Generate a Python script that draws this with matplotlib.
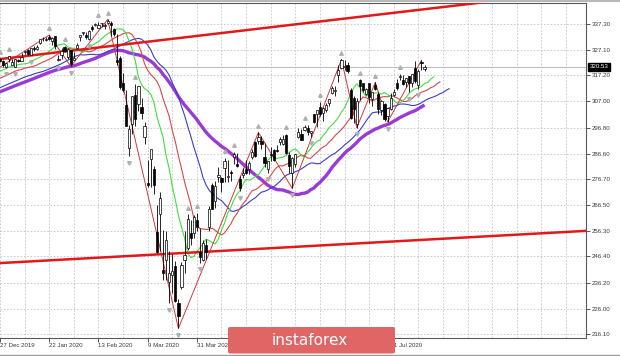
import numpy as np
import pandas as pd
import matplotlib
matplotlib.use("Agg")
import matplotlib.pyplot as plt
import matplotlib.transforms as mtransforms
from matplotlib.patches import FancyBboxPatch
from matplotlib.lines import Line2D

# closes before the first bar (14 Oct - 29 Nov 2019), only used to warm up the averages
hist_close = [295.95, 298.88, 298.40, 299.28, 297.97, 299.99, 298.58, 299.37, 299.94, 301.60,
              303.30, 303.21, 304.14, 303.33, 306.14, 307.37, 307.03, 307.10, 308.18, 309.00,
              308.35, 309.10, 309.31, 309.55, 311.79, 312.02, 311.93, 310.75, 310.27, 310.96,
              313.37, 314.08, 315.48, 314.31]

# daily bars (open, high, low, close) by month
dec19 = [(314.59, 314.66, 311.17, 311.64), (308.65, 309.64, 307.13, 309.55), (310.70, 312.12, 310.32, 311.46),
         (312.23, 312.25, 310.58, 312.02), (314.12, 315.31, 314.11, 314.87), (314.44, 315.18, 313.80, 313.88),
         (313.82, 314.55, 312.81, 313.53), (314.03, 314.70, 313.44, 314.42), (314.43, 317.99, 314.17, 317.13),
         (316.92, 318.67, 316.02, 317.32), (319.14, 320.15, 318.95, 319.50), (319.64, 320.00, 319.06, 319.57),
         (319.76, 320.25, 319.54, 319.59), (319.58, 320.98, 319.52, 320.90), (320.45, 320.94, 319.69, 320.73),
         (321.59, 321.65, 321.06, 321.22), (321.47, 321.52, 320.90, 321.23), (321.65, 322.95, 321.64, 322.94),
         (323.74, 323.80, 322.28, 322.86), (322.95, 323.10, 320.55, 321.08), (320.53, 322.13, 320.15, 321.86)]
jan20 = [(323.54, 324.89, 322.53, 324.87), (321.16, 323.64, 321.10, 322.41), (320.49, 323.73, 320.36, 323.64),
         (323.02, 323.54, 322.24, 322.73), (322.94, 325.78, 322.67, 324.45), (326.16, 326.73, 325.52, 326.65),
         (327.29, 327.46, 325.20, 325.71), (325.07, 327.96, 325.03, 327.95), (327.75, 328.63, 326.84, 327.45),
         (327.36, 329.02, 327.26, 328.19), (329.71, 331.60, 329.45, 331.50), (331.70, 332.18, 330.82, 331.95),
         (330.90, 332.37, 330.80, 331.30), (332.27, 332.95, 331.17, 331.34), (330.63, 332.04, 328.90, 331.72),
         (332.44, 332.53, 327.36, 328.77), (323.03, 325.12, 322.66, 323.50), (325.06, 327.85, 323.60, 326.89),
         (328.38, 328.63, 326.40, 326.62), (324.36, 327.91, 323.54, 327.68), (327.00, 327.17, 320.73, 321.73)]
feb20 = [(323.35, 326.16, 323.22, 324.12), (328.07, 329.99, 327.45, 329.06), (332.27, 333.09, 330.67, 332.86),
         (333.91, 334.19, 332.80, 333.98), (332.82, 333.99, 331.60, 332.20), (331.23, 334.75, 331.19, 334.68),
         (336.16, 337.02, 334.68, 335.26), (336.83, 337.65, 336.43, 337.42), (335.86, 338.12, 335.56, 337.06),
         (337.51, 337.73, 336.20, 337.60), (336.51, 337.67, 335.21, 336.73), (337.79, 339.08, 337.48, 338.34),
         (337.74, 338.64, 332.58, 336.95), (335.47, 335.81, 332.58, 333.48), (323.14, 333.56, 321.24, 322.42),
         (323.94, 324.60, 311.69, 312.65), (314.18, 318.11, 310.70, 311.50), (305.46, 311.56, 297.51, 297.51),
         (288.70, 297.89, 285.54, 296.26)]
mar20 = [(298.21, 309.16, 294.46, 309.09), (309.50, 313.84, 297.57, 300.24), (306.12, 313.10, 303.33, 312.86),
         (304.98, 308.47, 300.01, 302.46), (293.14, 298.95, 290.23, 297.46), (275.30, 284.19, 273.45, 274.23),
         (284.64, 288.52, 273.46, 288.42), (280.70, 281.94, 270.88, 274.36), (256.00, 266.66, 247.68, 248.11),
         (263.09, 271.48, 248.52, 269.32), (241.18, 256.90, 237.36, 239.85), (245.04, 256.17, 237.07, 252.80),
         (236.25, 248.37, 228.02, 240.00), (239.25, 247.38, 232.22, 240.51), (242.53, 244.47, 228.50, 228.80),
         (228.19, 229.68, 218.26, 222.95), (234.42, 244.10, 233.80, 243.15), (244.87, 256.35, 239.75, 246.79),
         (249.52, 262.80, 249.05, 261.20), (255.52, 260.81, 251.05, 253.42), (255.70, 262.43, 253.53, 261.65),
         (260.56, 263.33, 256.22, 257.75)]
apr20 = [(247.98, 257.66, 243.90, 246.15), (245.19, 252.68, 244.59, 251.83), (250.76, 253.32, 245.22, 248.19),
         (257.84, 265.94, 256.37, 264.86), (274.21, 275.03, 264.89, 265.13), (267.96, 276.00, 265.25, 274.03),
         (277.58, 281.20, 275.47, 278.20), (277.14, 277.51, 271.41, 275.66), (280.98, 284.90, 275.51, 283.79),
         (277.57, 283.94, 275.46, 277.76), (279.15, 280.03, 275.76, 279.10), (285.38, 287.30, 282.40, 286.64),
         (282.61, 286.79, 281.35, 281.59), (276.73, 278.04, 272.02, 273.04), (278.35, 281.00, 276.91, 279.10),
         (280.49, 283.94, 278.75, 279.08), (280.73, 283.70, 278.50, 282.97), (285.12, 288.27, 284.62, 287.05),
         (291.02, 291.40, 285.40, 285.73), (291.53, 294.88, 290.41, 293.21), (291.71, 293.32, 288.59, 290.48)]
may20 = [(285.31, 290.66, 281.52, 282.79), (280.74, 283.90, 279.13, 283.57), (286.64, 289.25, 283.71, 286.19),
         (288.04, 288.46, 283.78, 284.25), (287.75, 289.78, 287.13, 287.68), (291.09, 292.95, 289.86, 292.44),
         (290.34, 294.00, 289.88, 292.50), (293.79, 294.24, 286.52, 286.67), (286.06, 287.19, 278.97, 281.60),
         (278.95, 285.11, 272.99, 284.97), (282.37, 286.33, 281.34, 286.28), (293.05, 296.75, 292.70, 295.00),
         (294.35, 296.21, 291.95, 291.97), (295.82, 297.87, 295.57, 296.93), (296.79, 297.67, 293.69, 294.88),
         (294.57, 295.63, 293.22, 295.44), (301.93, 302.19, 298.69, 299.08), (302.12, 303.57, 296.87, 303.53),
         (304.65, 306.84, 301.50, 302.00), (302.46, 304.96, 299.47, 304.32)]
jun20 = [(303.62, 306.21, 303.06, 305.55), (306.55, 308.13, 305.10, 308.08), (310.24, 313.22, 309.94, 312.18),
         (311.11, 313.00, 309.08, 311.36), (317.23, 321.27, 314.43, 319.34), (320.22, 323.41, 319.63, 323.20),
         (320.30, 323.28, 319.36, 320.79), (321.42, 322.39, 318.22, 319.00), (311.46, 312.15, 300.01, 300.61),
         (308.24, 309.08, 298.60, 304.21), (298.02, 308.28, 296.74, 307.05), (315.48, 315.64, 307.67, 312.96),
         (314.07, 314.39, 310.86, 311.66), (310.01, 312.30, 309.51, 311.78), (314.17, 314.38, 306.53, 308.64),
         (307.99, 310.79, 305.10, 310.62), (313.49, 314.50, 311.61, 312.05), (309.84, 310.51, 302.10, 304.09),
         (303.47, 307.64, 301.88, 307.35), (306.16, 306.39, 299.42, 300.05), (301.41, 304.61, 298.93, 304.46),
         (303.99, 310.20, 303.82, 308.36)]
jul20 = [(309.57, 311.89, 309.07, 310.52), (314.24, 315.70, 311.51, 312.23), (316.37, 317.88, 315.56, 317.05),
         (315.38, 317.52, 313.37, 313.78), (314.61, 316.29, 312.70, 316.18), (316.84, 317.10, 310.68, 314.38),
         (314.31, 317.88, 312.76, 317.59), (320.13, 322.71, 314.13, 314.84), (313.30, 319.76, 312.00, 318.92),
         (322.41, 323.04, 319.27, 321.85), (319.79, 321.28, 319.09, 320.53)]

holidays = ["2019-12-25", "2020-01-01", "2020-01-20", "2020-02-17", "2020-04-10", "2020-05-25", "2020-07-03"]

# zigzag pivots
zz_dates = ["2019-12-03", "2020-01-22", "2020-01-31", "2020-02-19", "2020-03-23", "2020-04-29",
            "2020-05-14", "2020-06-08", "2020-06-15", "2020-06-23", "2020-06-29", "2020-07-15"]
zz_price = [307.13, 332.95, 320.73, 339.08, 218.26, 294.88, 272.99, 323.41, 296.74, 314.50, 298.93, 323.04]

# hand drawn trend lines (bar index, price)
trend_x = [15.0, 210.0]
trend_upper = [323.15, 350.7]
trend_lower = [243.6, 256.5]

yticks = [337.30, 327.10, 317.20, 307.00, 296.80, 286.60, 276.70, 266.50, 256.30, 246.40, 236.20, 226.00, 216.10]


def smma(x, n):
    out = np.full(len(x), np.nan)
    out[n - 1] = x[:n].mean()
    for i in range(n, len(x)):
        out[i] = (out[i - 1] * (n - 1) + x[i]) / n
    return out


dates = pd.bdate_range("2019-12-02", "2020-07-16")
dates = dates[~dates.isin(pd.to_datetime(holidays))]
df = pd.DataFrame(dec19 + jan20 + feb20 + mar20 + apr20 + may20 + jun20 + jul20,
                  columns=["open", "high", "low", "close"], index=dates)
n = len(df)
xi = np.arange(n)

plt.rcParams["font.family"] = ["Liberation Sans", "DejaVu Sans"]
fig = plt.figure(figsize=(6.2, 3.56), dpi=100)
ax = fig.add_axes([0, 18.5 / 356, 586 / 620, 334.5 / 356])
ax.set_xlim(20.98, 208.5)
ax.set_ylim(214.7, 345.5)

# grid
for g in np.arange(18, 209, 8):
    ax.axvline(g, color="#c4c4c4", lw=0.6, ls=(0, (2, 2)), zorder=0)
for t in yticks:
    ax.axhline(t, color="#c4c4c4", lw=0.6, ls=(0, (2, 2)), zorder=0)

# current price line
last = df["close"].iloc[-1]
ax.axhline(last, color="#c0c0c0", lw=0.8, zorder=1)

# trend lines
ax.plot(trend_x, trend_upper, color="#e01a1a", lw=1.8, zorder=3)
ax.plot(trend_x, trend_lower, color="#e01a1a", lw=1.8, zorder=3)

# moving averages
close_all = np.array(hist_close + list(df["close"]))
median_all = np.array(hist_close + list((df["high"] + df["low"]) / 2))
idx_all = np.arange(len(close_all)) - len(hist_close)
sma50 = pd.Series(close_all).rolling(50).mean().values
ax.plot(idx_all, sma50, color="#9a3ad6", lw=2.4, zorder=2, solid_capstyle="butt")
ax.plot(idx_all + 8, smma(median_all, 13), color="#3c3cd0", lw=0.8, zorder=2)
ax.plot(idx_all + 5, smma(median_all, 8), color="#d84848", lw=0.8, zorder=2)
ax.plot(idx_all + 3, smma(median_all, 5), color="#3ee03e", lw=0.8, zorder=2)

# zigzag
zz_x = [dates.get_loc(pd.Timestamp(d)) for d in zz_dates]
ax.plot(zz_x, zz_price, color="#cc3a3a", lw=0.7, zorder=2)

# candles
up = df["close"] >= df["open"]
ax.vlines(xi, df["low"], df["high"], color="black", lw=0.6, zorder=4)
body_lo = np.minimum(df["open"], df["close"])
body_h = np.maximum(np.abs(df["close"] - df["open"]), 0.3)
ax.bar(xi[up], body_h[up], bottom=body_lo[up], width=0.72, color="white",
       edgecolor="black", lw=0.5, zorder=5)
ax.bar(xi[~up], body_h[~up], bottom=body_lo[~up], width=0.72, color="black",
       edgecolor="black", lw=0.5, zorder=5)

# fractals
hi = df["high"].values
lo = df["low"].values
fu = [i for i in range(2, n - 2) if hi[i] > max(hi[i - 2:i]) and hi[i] > max(hi[i + 1:i + 3])]
fd = [i for i in range(2, n - 2) if lo[i] < min(lo[i - 2:i]) and lo[i] < min(lo[i + 1:i + 3])]
ax.plot(fu, hi[fu] + 2.6, ls="none", marker="^", ms=2.6, color="#b0b0b0", zorder=6)
ax.plot(fd, lo[fd] - 2.6, ls="none", marker="v", ms=2.6, color="#b0b0b0", zorder=6)

# axes look
for s in ["top", "right", "bottom"]:
    ax.spines[s].set_color("#5a5a5a")
    ax.spines[s].set_linewidth(0.8)
ax.spines["left"].set_visible(False)
ax.yaxis.tick_right()
ax.set_yticks(yticks)
ax.set_yticklabels([f"{t:.2f}" for t in yticks])
lab_idx = list(range(18, n, 16))
# labels under the logo are not visible in the screenshot
hidden = ["2020-04-23", "2020-05-15", "2020-06-09"]
xlabels = []
for i in lab_idx:
    d = dates[i]
    xlabels.append("" if d.strftime("%Y-%m-%d") in hidden else f"{d.day} {d.strftime('%b %Y')}")
ax.set_xticks(lab_idx)
ax.set_xticklabels(xlabels, ha="left")
ax.tick_params(axis="both", labelsize=4.4, colors="#3a3a3a", length=3, width=0.6, pad=1.2)

# price tag
trans = mtransforms.blended_transform_factory(ax.transAxes, ax.transData)
ax.text(1.006, last, f"{last:.2f}", transform=trans, fontsize=4.4, color="white", va="center", ha="left",
        bbox=dict(boxstyle="square,pad=0.25", fc="black", ec="black"), zorder=10, clip_on=False)

# window borders
fig.add_artist(Line2D([0, 1], [1 - 1 / 356] * 2, color="#b8b8b8", lw=1.5, transform=fig.transFigure))
fig.add_artist(Line2D([0, 1], [1.5 / 356] * 2, color="#9a9a9a", lw=1.0, transform=fig.transFigure))

# logo
logo = FancyBboxPatch((228 / 620, 2.5 / 356), 167 / 620, 26.5 / 356, boxstyle="round,pad=0,rounding_size=0.004",
                      transform=fig.transFigure, fc="#e06666", ec="none", zorder=20)
fig.add_artist(logo)
fig.text(310 / 620, 15.5 / 356, "instaforex", color="white", fontsize=11, ha="center", va="center",
         family="DejaVu Sans", zorder=21)

fig.savefig("out.png", dpi=100)
